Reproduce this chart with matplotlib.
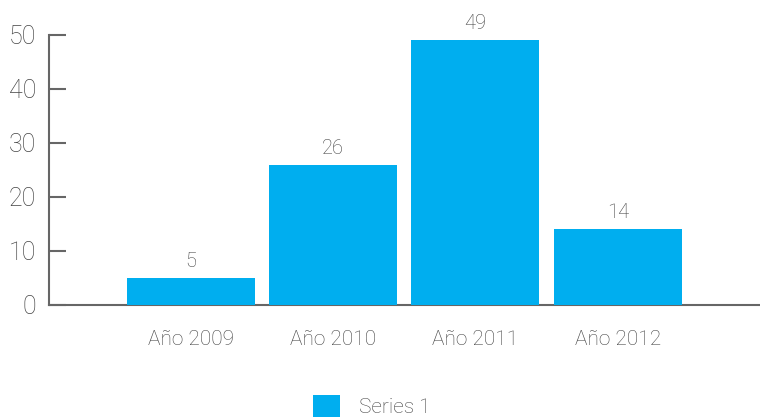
import matplotlib
matplotlib.use('Agg')
import matplotlib.pyplot as plt
from matplotlib.patches import Patch

# Données du graphique
categories = ['Año 2009', 'Año 2010', 'Año 2011', 'Año 2012']
valeurs = [5, 26, 49, 14]
nom_serie = 'Series 1'
graduations_y = [0, 10, 20, 30, 40, 50]

bleu = '#00AEEF'
gris_texte = '#444444'
gris_axe = '#666666'

plt.rcParams['font.family'] = ['Roboto', 'DejaVu Sans']
plt.rcParams['font.weight'] = 'light'

fig = plt.figure(figsize=(7.6, 4.17), dpi=100)
ax = fig.add_axes([48.5 / 760, 1 - 305 / 417, 1 - 48.5 / 760, 270 / 417])

positions = list(range(len(categories)))
barres = ax.bar(positions, valeurs, width=0.9, color=bleu, zorder=3)
ax.bar_label(barres, labels=[str(v) for v in valeurs], padding=5,
             fontsize=14.5, color=gris_texte)

ax.set_xlim(-1, 4)
ax.set_ylim(0, 50)
ax.set_yticks(graduations_y)
ax.set_xticks(positions)
ax.set_xticklabels(categories)

for cote in ['top', 'right']:
    ax.spines[cote].set_visible(False)
for cote in ['left', 'bottom']:
    ax.spines[cote].set_color(gris_axe)
    ax.spines[cote].set_linewidth(1.5)

ax.tick_params(axis='y', direction='in', length=12, width=1.5, color=gris_axe,
               labelsize=18, labelcolor=gris_texte, pad=9)
ax.tick_params(axis='x', length=0, labelsize=15, labelcolor=gris_texte, pad=18)

# Légende en bas, centrée
poignee = Patch(facecolor=bleu, edgecolor='none')
fig.legend([poignee], [nom_serie], loc='center', bbox_to_anchor=(372 / 760, 1 - 406 / 417),
           frameon=False, fontsize=15, labelcolor=gris_texte,
           handlelength=1.3, handleheight=1.3, handletextpad=0.9)

fig.savefig('out.png', dpi=100)
